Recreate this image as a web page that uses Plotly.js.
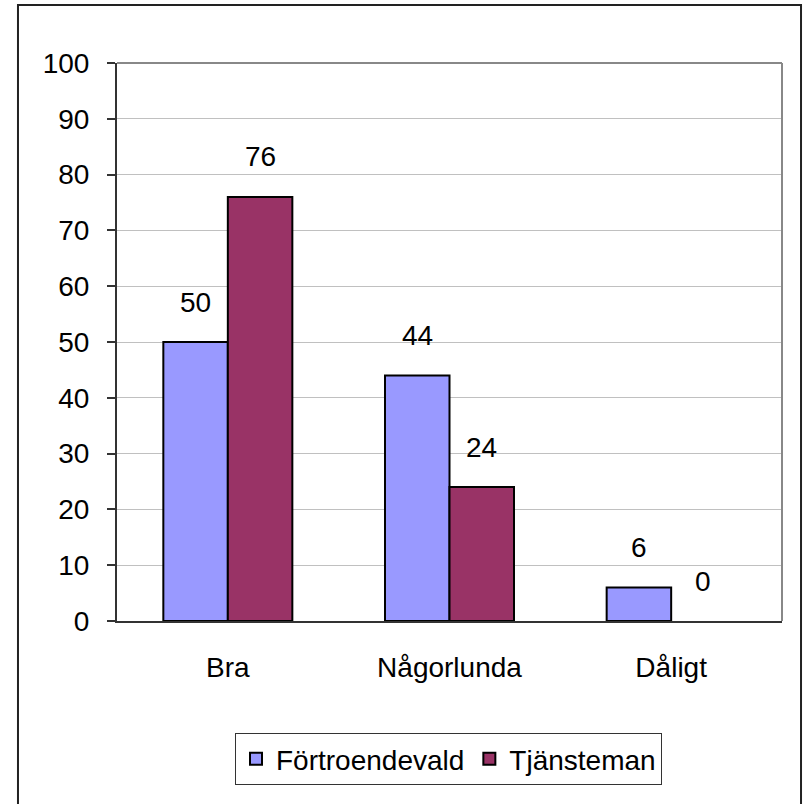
<!DOCTYPE html>
<html>
<head>
<meta charset="utf-8">
<script src="https://cdn.plot.ly/plotly-3.0.1.min.js"></script>
<style>
html,body{margin:0;padding:0;background:#fff;}
#chart{width:806px;height:804px;}
</style>
</head>
<body>
<div id="chart"></div>
<script>
const categories = ["Bra", "Någorlunda", "Dåligt"];
const seriesNames = ["Förtroendevald", "Tjänsteman"];
const fortroendevald = [50, 44, 6];
const tjansteman = [76, 24, 0];
const yTicks = [0, 10, 20, 30, 40, 50, 60, 70, 80, 90, 100];
const colors = ["#9999FF", "#993366"];

const FONT = '"Liberation Sans", Arial, sans-serif';
const FS = 28;

const traces = [fortroendevald, tjansteman].map((vals, i) => ({
  type: 'bar',
  name: seriesNames[i],
  x: categories,
  y: vals,
  marker: {color: colors[i], line: {color: '#000', width: vals.map(v => v === 0 ? 0 : 2)}},
  hoverinfo: 'none'
}));

const barPx = 64.5;
const annotations = [];
[fortroendevald, tjansteman].forEach((vals, i) => {
  vals.forEach((v, j) => {
    annotations.push({
      x: categories[j], y: v, xref: 'x', yref: 'y',
      text: String(v), showarrow: false,
      xshift: (i === 0 ? -1 : 1) * barPx / 2,
      yshift: 40, yanchor: 'middle',
      font: {family: FONT, size: FS, color: '#000'}
    });
  });
});

const layout = {
  width: 806, height: 804,
  margin: {l: 117, r: 24, t: 63, b: 183},
  paper_bgcolor: '#fff', plot_bgcolor: '#fff',
  barmode: 'group', bargap: 0.418, bargroupgap: 0,
  font: {family: FONT, size: FS, color: '#000'},
  showlegend: true,
  legend: {
    orientation: 'h', x: 0.4985, xanchor: 'center', y: -0.2007, yanchor: 'top',
    bordercolor: '#333', borderwidth: 1, bgcolor: '#fff',
    font: {family: FONT, size: FS, color: '#000'},
    itemclick: false, traceorder: 'normal'
  },
  xaxis: {
    type: 'category', showline: true, linecolor: '#333', linewidth: 2,
    ticks: '', showgrid: false, ticklabelstandoff: 20,
    tickfont: {family: FONT, size: FS, color: '#000'},
    mirror: false, fixedrange: true
  },
  yaxis: {
    range: [0, 100], tickvals: yTicks, ticktext: yTicks.map(String),
    showline: true, linecolor: '#333', linewidth: 2,
    ticks: 'outside', ticklen: 8, tickcolor: '#333', tickwidth: 2,
    showgrid: true, gridcolor: '#c0c0c0', gridwidth: 1,
    zeroline: false, ticklabelstandoff: 12,
    tickfont: {family: FONT, size: FS, color: '#000'},
    fixedrange: true
  },
  shapes: [
    {type: 'line', xref: 'paper', yref: 'paper', x0: 0, x1: 1, y0: 1, y1: 1, line: {color: '#888', width: 2}},
    {type: 'line', xref: 'paper', yref: 'paper', x0: 1, x1: 1, y0: 0, y1: 1, line: {color: '#888', width: 2}},
    {type: 'rect', xref: 'paper', yref: 'paper', x0: -0.1489, x1: 1.0286, y0: -0.34, y1: 1.1039, line: {color: '#222', width: 2}, fillcolor: 'rgba(0,0,0,0)', layer: 'below'}
  ],
  annotations: annotations
};

Plotly.newPlot('chart', traces, layout, {displayModeBar: false, staticPlot: true});
</script>
</body>
</html>
